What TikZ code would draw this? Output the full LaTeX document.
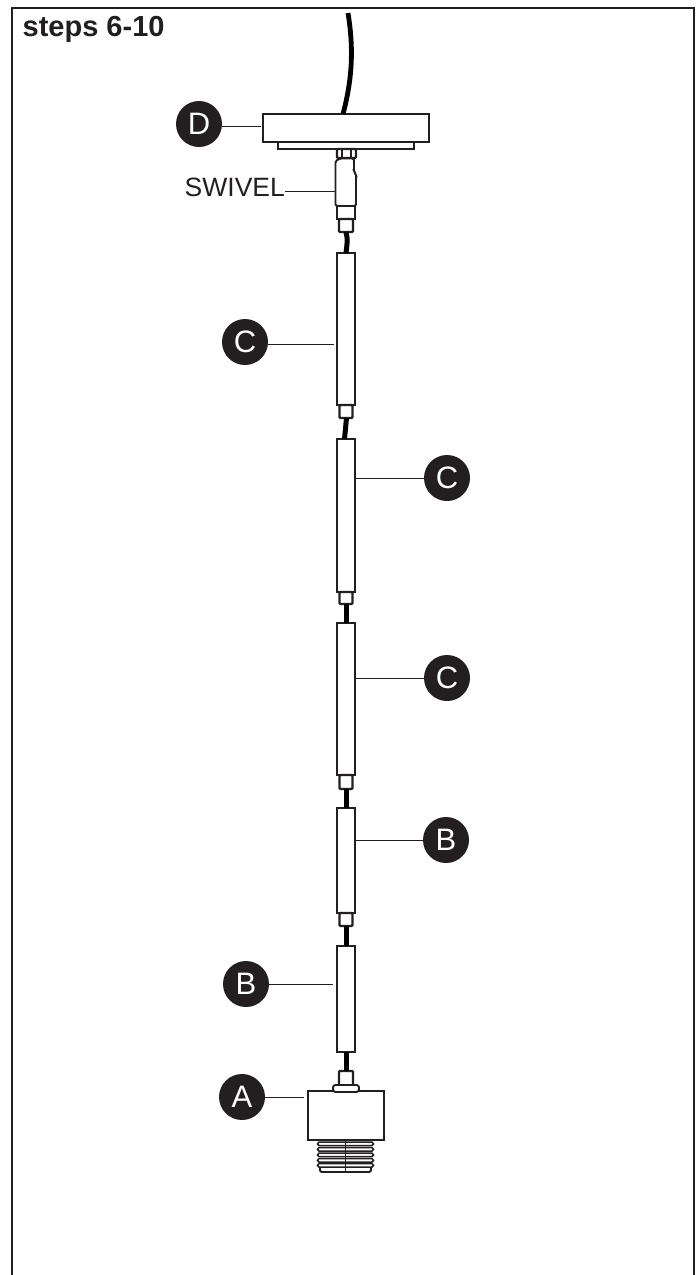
\documentclass[tikz,border=0pt]{standalone}
\usepackage{fontspec}
\setmainfont{Liberation Sans}
\definecolor{ink}{HTML}{231F20}
\begin{document}
\begin{tikzpicture}[x=1pt,y=-1pt,
  part/.style={draw=ink,line width=1.9pt,fill=white,rectangle,inner sep=0pt,outer sep=0pt,anchor=north west},
  joint/.style={part,rounded corners=1pt,line width=2.3pt},
  cord/.style={draw=black,line width=5pt},
  leader/.style={draw=ink,line width=0.8pt},
  badge/.style={circle,fill=ink,text=white,minimum size=46pt,inner sep=0pt,font=\fontsize{31}{31}\selectfont},
  thread/.style={draw=ink,line width=1.5pt,line cap=round}]
\useasboundingbox (0,0) rectangle (697,1275);
\fill[white] (0,0) rectangle (697,1275);
% frame
\coordinate (fbl) at (12,1275);
\coordinate (ftl) at (12,8);
\coordinate (ftr) at (694,8);
\coordinate (fbr) at (694,1275);
\draw[ink,line width=2.6pt] (fbl) -- (ftl) -- (ftr) -- (fbr);
\node[anchor=base west,inner sep=0pt,text=ink,font=\bfseries\fontsize{29}{29}\selectfont] (title) at (22.5,36) {steps 6-10};
\coordinate (cabletop) at (348,13);
\node[part,minimum width=166pt,minimum height=28pt] (canopy) at (263,114) {};
\node[part,minimum width=136pt,minimum height=7pt] (plate) at (278,142) {};
\node[joint,minimum width=19pt,minimum height=9pt] (swtop) at (337,149) {};
\node[part,minimum width=18pt,minimum height=13pt] (swlow) at (337,206) {};
\node[joint,minimum width=14pt,minimum height=13pt] (swend) at (339,219) {};
\draw[line width=4.8pt,black] (cabletop) .. controls (354,50) and (352,80) .. (343,114);
% tubes and joints
\node[part,minimum width=18pt,minimum height=152pt] (tc1) at (337,253) {};
\node[joint,minimum width=13pt,minimum height=13pt] (jc1) at (339.5,405) {};
\node[part,minimum width=18pt,minimum height=153pt] (tc2) at (337,439) {};
\node[joint,minimum width=13pt,minimum height=12pt] (jc2) at (339.5,592) {};
\node[part,minimum width=18pt,minimum height=152pt] (tc3) at (337,623) {};
\node[joint,minimum width=13pt,minimum height=14pt] (jc3) at (339.5,775) {};
\node[part,minimum width=18pt,minimum height=105pt] (tb1) at (337,808) {};
\node[joint,minimum width=13pt,minimum height=13pt] (jb1) at (339.5,913) {};
\node[part,minimum width=18pt,minimum height=106pt] (tb2) at (337,946) {};
\node[joint,minimum width=14pt,minimum height=15pt] (ja) at (339,1071) {};
% cords between them
\draw[cord] (swend.south) .. controls +(2,7) and +(1,-8) .. (tc1.north);
\draw[cord] ([xshift=0.5pt]jc1.south) -- ([xshift=-1.5pt]tc2.north);
\draw[cord] (jc2.south) -- (tc3.north);
\draw[cord] (jc3.south) -- (tb1.north);
\draw[cord] (jb1.south) -- (tb2.north);
\draw[cord] (tb2.south) -- (ja.north);
% swivel body
\draw[ink,line width=1.9pt,fill=white,rounded corners=1.5pt] (335.5,206) -- (335.5,161) -- (340,158.5) -- (354,158.5) -- (354,172) -- (356,174) -- (356,206) -- cycle;
\node[inner sep=0pt,minimum width=20pt,minimum height=47pt,anchor=north west] (swbody) at (335.5,159) {};
\draw[ink,line width=1.2pt] (342,150) -- (342,157) (351,150) -- (351,157);
% socket
\node[part,minimum width=76pt,minimum height=49pt] (socket) at (308,1091) {};
\node[joint,minimum width=26pt,minimum height=7pt,rounded corners=2.5pt,line width=1.9pt] (flange) at (333,1085) {};
\draw[ink,line width=1.9pt,fill=white,rounded corners=1.5pt] (320,1164) -- (320,1172) -- (371,1172) -- (371,1164) -- cycle;
\node[inner sep=0pt,minimum width=51pt,minimum height=8pt,anchor=north west] (collar) at (320,1164) {};
\foreach \y in {1142,1147.5,1153,1158.5,1163.5}{
  \draw[thread,fill=white] (319,\y) .. controls (317,\y+2) .. (319,\y+3.5) -- (372,\y+3.5) .. controls (374,\y+2) .. (372,\y) -- cycle;
}
\draw[ink,line width=0.4pt] (345.5,1141) -- (345.5,1172);
% badges
\node[badge] (bD) at (199,124) {D};
\node[badge] (bC1) at (245,342) {C};
\node[badge] (bC2) at (447,478) {C};
\node[badge] (bC3) at (447,678) {C};
\node[badge] (bB1) at (446,840) {B};
\node[badge] (bB2) at (246,984) {B};
\node[badge] (bA) at (242,1097) {A};
\node[anchor=base west,inner sep=0pt,text=ink,font=\fontsize{26.5}{26.5}\selectfont] (swivel) at (184.5,196) {SWIVEL};
% leaders
\draw[leader] ([yshift=-2pt]bD.east) -- ([xshift=-2pt,yshift=-2pt]canopy.west |- bD.east);
\draw[leader] ([yshift=-8.5pt]swivel.east |- swbody.center) -- ([yshift=-8.5pt]swbody.west |- swbody.center);
\draw[leader] ([yshift=-2pt]bC1.east) -- ([xshift=-3pt,yshift=-2pt]tc1.west |- bC1.east);
\draw[leader] (bC2.west) -- ([xshift=1pt]tc2.east |- bC2.west);
\draw[leader] (bC3.west) -- ([xshift=1pt]tc3.east |- bC3.west);
\draw[leader] (bB1.west) -- (tb1.east |- bB1.west);
\draw[leader] (bB2.east) -- ([xshift=-4pt]tb2.west |- bB2.east);
\draw[leader] (bA.east) -- ([xshift=-4pt]socket.west |- bA.east);
\end{tikzpicture}
\end{document}
